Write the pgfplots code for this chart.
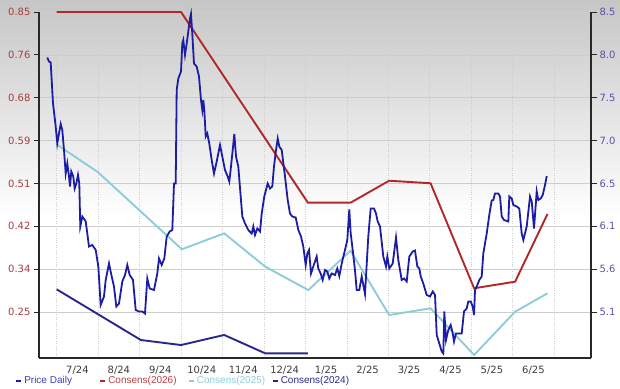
\documentclass[border=0pt]{standalone}
\usepackage{pgfplots}
\pgfplotsset{compat=1.18}
\usepackage{pgfplotstable}
\usepackage{fontspec}
\setmainfont{DejaVu Sans}
\newfontfamily\legfont{Liberation Sans}
\definecolor{pricecol}{RGB}{28,28,165}
\definecolor{c26}{RGB}{178,40,42}
\definecolor{c25}{RGB}{140,205,218}
\definecolor{c24}{RGB}{40,40,140}
\definecolor{lefttick}{RGB}{170,60,60}
\definecolor{righttick}{RGB}{85,85,165}
\definecolor{xtickcol}{RGB}{60,60,60}
\definecolor{framecol}{RGB}{40,40,40}
\definecolor{gridcol}{RGB}{205,205,205}

\pgfplotstableread{
x y
-0.227 0.759
-0.186 0.751
-0.145 0.749
-0.089 0.667
-0.024 0.621
0.014 0.587
0.055 0.607
0.097 0.626
0.135 0.614
0.176 0.574
0.217 0.527
0.256 0.547
0.297 0.521
0.321 0.501
0.352 0.531
0.400 0.521
0.434 0.497
0.473 0.507
0.514 0.524
0.545 0.507
0.569 0.421
0.618 0.441
0.700 0.431
0.738 0.407
0.779 0.381
0.859 0.384
0.941 0.374
1.004 0.341
1.061 0.264
1.141 0.281
1.182 0.314
1.262 0.347
1.327 0.321
1.382 0.301
1.438 0.261
1.503 0.267
1.583 0.311
1.648 0.324
1.703 0.344
1.761 0.324
1.841 0.314
1.906 0.254
1.986 0.251
2.065 0.251
2.130 0.247
2.186 0.317
2.244 0.297
2.347 0.294
2.427 0.327
2.468 0.357
2.533 0.344
2.596 0.357
2.654 0.401
2.726 0.411
2.789 0.414
2.830 0.507
2.871 0.507
2.895 0.694
2.934 0.717
2.999 0.731
3.030 0.787
3.054 0.794
3.095 0.764
3.136 0.787
3.175 0.811
3.216 0.837
3.240 0.846
3.271 0.807
3.312 0.747
3.377 0.741
3.433 0.721
3.481 0.674
3.513 0.654
3.537 0.674
3.561 0.654
3.595 0.601
3.633 0.607
3.681 0.587
3.739 0.554
3.795 0.527
3.860 0.551
3.940 0.584
3.995 0.561
4.060 0.534
4.125 0.521
4.164 0.511
4.205 0.541
4.246 0.574
4.285 0.606
4.326 0.561
4.381 0.541
4.439 0.481
4.478 0.441
4.543 0.427
4.622 0.414
4.704 0.407
4.743 0.421
4.784 0.404
4.840 0.417
4.905 0.411
4.946 0.447
5.008 0.481
5.090 0.507
5.146 0.497
5.201 0.501
5.242 0.541
5.291 0.574
5.332 0.597
5.370 0.581
5.428 0.574
5.508 0.521
5.573 0.474
5.628 0.447
5.684 0.441
5.766 0.439
5.829 0.414
5.894 0.401
5.949 0.381
6.007 0.344
6.046 0.367
6.087 0.374
6.135 0.327
6.190 0.341
6.272 0.361
6.311 0.337
6.369 0.327
6.417 0.314
6.473 0.334
6.528 0.331
6.576 0.317
6.634 0.327
6.714 0.324
6.769 0.337
6.818 0.322
6.876 0.347
6.955 0.374
7.011 0.394
7.059 0.455
7.093 0.407
7.141 0.374
7.196 0.334
7.237 0.294
7.300 0.294
7.358 0.321
7.438 0.286
7.517 0.401
7.575 0.457
7.655 0.457
7.703 0.447
7.744 0.431
7.800 0.421
7.879 0.361
7.944 0.341
7.976 0.361
8.024 0.337
8.106 0.347
8.186 0.399
8.241 0.354
8.323 0.314
8.379 0.317
8.444 0.311
8.507 0.361
8.589 0.371
8.644 0.373
8.700 0.341
8.748 0.337
8.782 0.321
8.844 0.307
8.926 0.284
9.006 0.281
9.071 0.291
9.127 0.284
9.168 0.204
9.230 0.187
9.288 0.171
9.327 0.167
9.351 0.251
9.392 0.194
9.447 0.214
9.505 0.224
9.554 0.207
9.585 0.191
9.633 0.207
9.689 0.207
9.771 0.207
9.826 0.251
9.891 0.257
9.930 0.271
9.988 0.271
10.036 0.261
10.068 0.244
10.092 0.294
10.133 0.301
10.195 0.314
10.253 0.321
10.292 0.367
10.374 0.407
10.436 0.444
10.494 0.473
10.533 0.474
10.574 0.487
10.654 0.487
10.695 0.481
10.736 0.441
10.791 0.434
10.895 0.431
10.919 0.481
10.977 0.477
11.016 0.464
11.098 0.461
11.160 0.457
11.218 0.407
11.258 0.394
11.339 0.421
11.419 0.481
11.460 0.471
11.515 0.417
11.580 0.491
11.619 0.474
11.677 0.477
11.725 0.484
11.781 0.504
11.822 0.522
}\pricetable

\pgfplotstableread{
x y
0 8.5
3.0 8.5
6.06 6.339
7.09 6.339
8.02 6.588
9.02 6.559
10.07 5.369
11.06 5.444
11.84 6.211
}\consA

\pgfplotstableread{
x y
0 7.0
1.0 6.683
3.02 5.811
4.04 5.992
5.03 5.614
6.07 5.349
7.09 5.795
8.02 5.066
9.02 5.142
10.07 4.613
11.06 5.104
11.84 5.312
}\consB

\pgfplotstableread{
x y
0 5.357
2.03 4.783
3.0 4.726
4.04 4.84
5.03 4.632
6.06 4.632
}\consC

\begin{document}
\begin{tikzpicture}[x=1pt,y=1pt]
\useasboundingbox (-39,-30) rectangle (581,358);
\shade[top color={rgb,255:red,198;green,198;blue,198}, bottom color=white] (-39,140) rectangle (581,358);
% consensus axis (right) with grid and x labels
\begin{axis}[at={(0,0)}, anchor=south west, width=552pt, height=346pt, scale only axis,
  clip=false,
  xmin=-0.427, xmax=12.89, ymin=4.579, ymax=8.5,
  axis x line=bottom, axis y line=right,
  axis line style={framecol, line width=1.5pt, -},
  xtick={0.5,1.5,2.5,3.5,4.5,5.5,6.5,7.5,8.5,9.5,10.5,11.5},
  xticklabels={7/24,8/24,9/24,10/24,11/24,12/24,1/25,2/25,3/25,4/25,5/25,6/25},
  minor xtick={0,1,2,3,4,5,6,7,8,9,10,11,12},
  xminorgrids=true, ymajorgrids=true,
  major grid style={gridcol, line width=0.6pt},
  minor grid style={gridcol, dotted, line width=0.7pt},
  x tick style={draw=none},
  ytick={5.1,5.5857,6.0714,6.5571,7.0429,7.5286,8.0143,8.5},
  yticklabels={5.1,5.6,6.1,6.5,7.0,7.5,8.0,8.5},
  minor y tick num=3,
  y tick style={framecol, line width=0.8pt},
  tick align=outside, major tick length=6pt, minor tick length=3.5pt,
  x tick label style={font=\fontsize{10}{12}\selectfont, text=xtickcol, yshift=1.5pt},
  y tick label style={font=\fontsize{10}{12}\selectfont, text=righttick, xshift=-1pt},
]
\addplot[c26, line width=1.9pt] table {\consA};
\addplot[c25, line width=1.9pt] table {\consB};
\addplot[c24, line width=1.9pt] table {\consC};
\end{axis}
% price axis (left)
\begin{axis}[at={(0,0)}, anchor=south west, width=552pt, height=346pt, scale only axis,
  clip=false,
  xmin=-0.427, xmax=12.89, ymin=0.158, ymax=0.85,
  axis x line=none, axis y line=left,
  axis line style={framecol, line width=1.5pt, -},
  ytick={0.25,0.3357,0.4214,0.5071,0.5929,0.6786,0.7643,0.85},
  yticklabels={0.25,0.34,0.42,0.51,0.59,0.68,0.76,0.85},
  y tick style={framecol, line width=0.8pt},
  tick align=outside, major tick length=5pt,
  y tick label style={font=\fontsize{10}{12}\selectfont, text=lefttick},
  legend style={at={(-0.043,-0.066)}, anchor=west, draw=none, fill=none,
    inner sep=0pt, outer sep=0pt,
    font=\legfont\fontsize{10}{12}\selectfont,
    /tikz/every even column/.append style={column sep=0pt}},
  legend columns=4, legend cell align=left,
  legend image code/.code={\draw[#1, line width=2pt] (0pt,0pt) -- (5pt,0pt);},
]
\addplot[pricecol, line width=1.8pt] table {\pricetable};
\addlegendentry{\makebox[73pt][l]{\textcolor{pricecol!85!white}{Price Daily}}}
\addlegendimage{c26}
\addlegendentry{\makebox[77.6pt][l]{\textcolor{c26!90!white}{Consens(2026)}}}
\addlegendimage{c25}
\addlegendentry{\makebox[72.9pt][l]{\textcolor{c25}{Consens(2025)}}}
\addlegendimage{c24}
\addlegendentry{\textcolor{c24}{Consens(2024)}}
\end{axis}
\end{tikzpicture}
\end{document}
